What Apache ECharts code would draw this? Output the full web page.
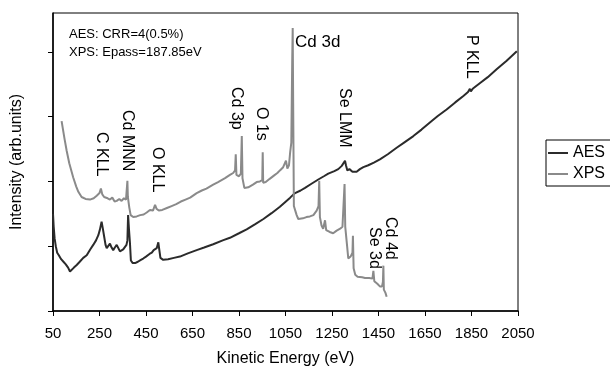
<!DOCTYPE html>
<html>
<head>
<meta charset="utf-8">
<script src="https://cdn.jsdelivr.net/npm/echarts@6/dist/echarts.min.js"></script>
<style>
  html, body { margin: 0; padding: 0; background: #fff; }
  #main { width: 610px; height: 372px; }
</style>
</head>
<body>
<div id="main"></div>
<script>
// AES spectrum (kinetic energy, intensity)
var aesEnergy = [50, 53, 57, 62, 68, 75, 85, 95, 105, 115, 123, 130, 140, 152, 165, 180, 195, 210, 223, 235, 245, 252, 259, 264, 270, 276, 281, 288, 295, 302, 309, 316, 324, 331, 338, 345, 352, 360, 366, 370, 373, 377, 381, 385, 393, 403, 415, 428, 438, 450, 465, 475, 483, 490, 496, 503, 507, 512, 524, 545, 570, 596, 630, 668, 700, 739, 780, 811, 850, 883, 920, 955, 990, 1026, 1048, 1070, 1091, 1115, 1134, 1160, 1191, 1215, 1234, 1260, 1277, 1292, 1300, 1306, 1310, 1316, 1325, 1332, 1338, 1345, 1356, 1370, 1385, 1406, 1430, 1456, 1490, 1528, 1560, 1600, 1635, 1671, 1705, 1743, 1780, 1815, 1835, 1843, 1847, 1855, 1887, 1920, 1958, 2000, 2045];
var aesIntensity = [1.50, 1.30, 1.12, 1.00, 0.90, 0.86, 0.80, 0.76, 0.72, 0.67, 0.61, 0.64, 0.67, 0.71, 0.76, 0.82, 0.86, 0.95, 1.02, 1.09, 1.17, 1.26, 1.38, 1.28, 1.15, 1.02, 0.97, 1.00, 1.04, 0.98, 0.94, 0.98, 1.02, 0.97, 0.92, 0.93, 0.95, 0.97, 1.02, 1.09, 1.48, 1.25, 1.05, 0.78, 0.74, 0.74, 0.76, 0.79, 0.81, 0.84, 0.88, 0.90, 0.94, 0.92, 0.97, 1.06, 0.95, 0.82, 0.79, 0.80, 0.82, 0.84, 0.89, 0.94, 0.98, 1.03, 1.09, 1.13, 1.20, 1.26, 1.34, 1.42, 1.51, 1.61, 1.68, 1.75, 1.82, 1.86, 1.90, 1.96, 2.03, 2.08, 2.12, 2.16, 2.19, 2.24, 2.26, 2.32, 2.25, 2.17, 2.19, 2.20, 2.15, 2.18, 2.15, 2.19, 2.22, 2.25, 2.29, 2.34, 2.42, 2.52, 2.60, 2.70, 2.80, 2.91, 3.01, 3.11, 3.22, 3.32, 3.38, 3.43, 3.39, 3.43, 3.52, 3.61, 3.73, 3.86, 4.01];

// XPS spectrum (kinetic energy, intensity)
var xpsEnergy = [87, 100, 109, 120, 137, 150, 159, 173, 190, 209, 225, 238, 250, 256, 262, 270, 285, 295, 305, 315, 324, 335, 345, 355, 364, 368, 370, 372, 378, 384, 395, 410, 425, 440, 453, 467, 480, 489, 495, 505, 520, 540, 560, 580, 600, 620, 640, 668, 690, 710, 739, 760, 790, 811, 825, 833, 836, 839, 850, 858, 862, 865, 873, 890, 910, 926, 940, 950, 952, 954, 965, 982, 1000, 1015, 1026, 1040, 1052, 1058, 1065, 1070, 1075, 1079, 1081, 1083, 1086, 1092, 1098, 1105, 1112, 1125, 1140, 1155, 1170, 1184, 1192, 1195, 1198, 1205, 1212, 1220, 1225, 1240, 1255, 1270, 1285, 1295, 1302, 1304, 1307, 1315, 1320, 1330, 1338, 1340, 1343, 1350, 1360, 1380, 1392, 1410, 1424, 1428, 1432, 1445, 1456, 1465, 1469, 1471, 1473, 1480, 1485];
var xpsIntensity = [2.93, 2.65, 2.47, 2.28, 2.06, 1.92, 1.84, 1.76, 1.73, 1.72, 1.74, 1.78, 1.82, 1.89, 1.80, 1.76, 1.74, 1.72, 1.75, 1.69, 1.70, 1.73, 1.70, 1.74, 1.72, 1.74, 2.01, 1.76, 1.60, 1.48, 1.45, 1.46, 1.48, 1.49, 1.52, 1.56, 1.55, 1.64, 1.58, 1.55, 1.56, 1.59, 1.62, 1.65, 1.69, 1.72, 1.75, 1.82, 1.86, 1.89, 1.95, 1.99, 2.05, 2.10, 2.13, 2.17, 2.42, 2.10, 2.08, 2.12, 2.70, 2.05, 1.90, 1.91, 1.95, 1.99, 2.00, 2.02, 2.45, 1.98, 1.99, 2.04, 2.09, 2.13, 2.17, 2.22, 2.32, 2.20, 2.25, 2.45, 2.60, 3.90, 4.37, 3.20, 1.62, 1.55, 1.48, 1.42, 1.40, 1.43, 1.45, 1.46, 1.48, 1.55, 1.62, 2.01, 1.45, 1.32, 1.27, 1.40, 1.25, 1.22, 1.20, 1.24, 1.27, 1.30, 1.32, 1.96, 1.30, 1.00, 0.81, 0.84, 0.90, 1.16, 0.66, 0.56, 0.53, 0.52, 0.51, 0.51, 0.50, 0.62, 0.46, 0.42, 0.38, 0.38, 0.45, 0.70, 0.33, 0.28, 0.22];

var xTicks = [50, 250, 450, 650, 850, 1050, 1250, 1450, 1650, 1850, 2050];
var yTicks = [0, 1, 2, 3, 4];

function pairs(xs, ys) {
    var out = [];
    for (var i = 0; i < xs.length; i++) out.push([xs[i], ys[i]]);
    return out;
}

var myChart = echarts.init(document.getElementById('main'));
var font = 'Liberation Sans, Arial, sans-serif';

// vertical peak labels, read top to bottom
function vlabel(txt, x, y) {
    return {
        type: 'text', x: x, y: y, rotation: -Math.PI / 2,
        style: { text: txt, fill: '#000', font: '16px ' + font, align: 'left', verticalAlign: 'middle' }
    };
}

option = {
    animation: false,
    backgroundColor: '#fff',
    grid: {
        left: 53, right: 92, top: 13, bottom: 59,
        show: true, borderColor: '#000', borderWidth: 1
    },
    legend: {
        orient: 'vertical',
        left: 546, top: 140,
        data: ['AES', 'XPS'],
        icon: 'rect',
        itemWidth: 20, itemHeight: 2, itemGap: 5,
        borderColor: '#000', borderWidth: 1,
        padding: [5, 6, 4, 2],
        textStyle: { fontSize: 16, color: '#000', fontFamily: font }
    },
    xAxis: {
        type: 'value', min: 50, max: 2050, interval: 200,
        name: 'Kinetic Energy (eV)', nameLocation: 'middle', nameGap: 40,
        nameTextStyle: { fontSize: 16, color: '#000', fontFamily: font },
        axisLine: { lineStyle: { color: '#000', width: 1.5 } },
        axisTick: { show: true, inside: false, length: 5, lineStyle: { color: '#000' } },
        axisLabel: {
            color: '#000', fontSize: 15, fontFamily: font, margin: 15, customValues: xTicks,
            formatter: function (v) { return String(v); }
        },
        splitLine: { show: false }
    },
    yAxis: {
        type: 'value', min: 0, max: 4.6,
        name: 'Intensity (arb.units)', nameLocation: 'middle', nameGap: 28,
        nameTextStyle: { fontSize: 16, color: '#000', fontFamily: font },
        axisLine: { show: true, lineStyle: { color: '#000', width: 1.5 } },
        axisTick: { show: true, inside: false, length: 5, lineStyle: { color: '#000' }, customValues: yTicks },
        axisLabel: { show: false },
        splitLine: { show: false }
    },
    series: [
        {
            name: 'AES', type: 'line', showSymbol: false,
            lineStyle: { color: '#2b2b2b', width: 2 },
            itemStyle: { color: '#2b2b2b' },
            data: pairs(aesEnergy, aesIntensity)
        },
        {
            name: 'XPS', type: 'line', showSymbol: false,
            lineStyle: { color: '#8a8a8a', width: 2 },
            itemStyle: { color: '#8a8a8a' },
            data: pairs(xpsEnergy, xpsIntensity)
        }
    ],
    graphic: [
        { type: 'text', x: 69, y: 34, style: { text: 'AES: CRR=4(0.5%)', fill: '#000', font: '13px ' + font, verticalAlign: 'middle' } },
        { type: 'text', x: 69, y: 52, style: { text: 'XPS: Epass=187.85eV', fill: '#000', font: '13px ' + font, verticalAlign: 'middle' } },
        { type: 'text', x: 295, y: 42, style: { text: 'Cd 3d', fill: '#000', font: '17px ' + font, verticalAlign: 'middle' } },
        vlabel('C KLL', 101, 132),
        vlabel('Cd MNN', 127, 110),
        vlabel('O KLL', 157, 147),
        vlabel('Cd 3p', 236, 87),
        vlabel('O 1s', 261, 107),
        vlabel('Se LMM', 344, 88),
        vlabel('P KLL', 471, 35),
        vlabel('Cd 4d', 390, 217),
        vlabel('Se 3d', 374, 227)
    ]
};

myChart.setOption(option);
</script>
</body>
</html>
